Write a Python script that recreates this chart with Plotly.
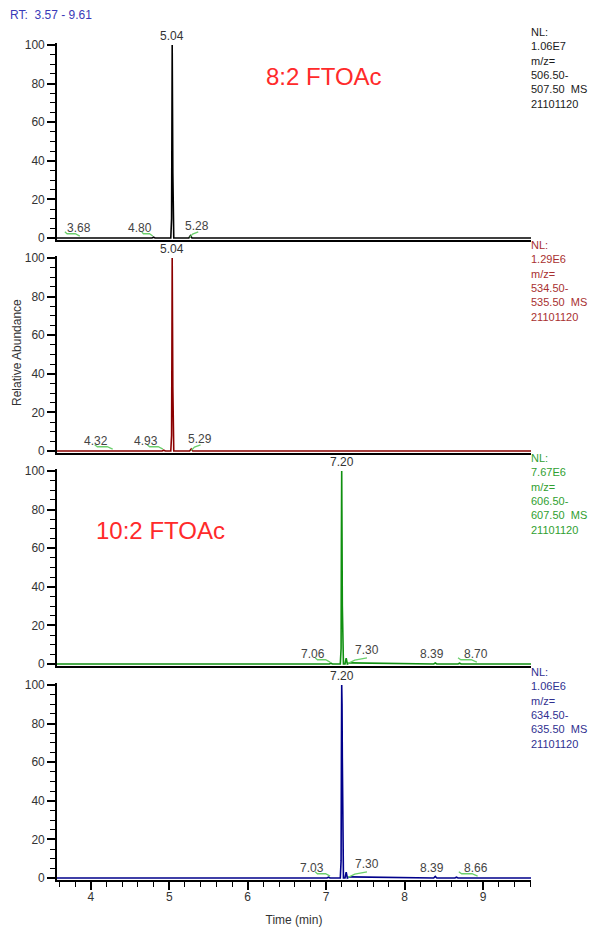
import plotly.graph_objects as go

# ---------------- data ----------------
rt_range = [3.57, 9.61]

p1_time = [3.57, 3.66, 3.68, 3.70, 4.78, 4.80, 4.82, 5.020, 5.026, 5.030, 5.034, 5.038, 5.042, 5.046, 5.050, 5.054, 5.058, 5.25, 5.27, 5.29, 9.61]
p1_int = [0, 0, 0.3, 0, 0, 0.4, 0, 0, 10, 10, 54, 100, 67, 34, 10, 10, 0, 0, 1.2, 0, 0]

p2_time = [3.57, 4.30, 4.32, 4.34, 4.91, 4.93, 4.95, 5.020, 5.026, 5.030, 5.034, 5.038, 5.042, 5.046, 5.050, 5.054, 5.058, 5.26, 5.28, 5.30, 9.61]
p2_int = [0, 0, 0.3, 0, 0, 0.4, 0, 0, 8, 8, 50, 100, 66, 33, 8, 8, 0, 0, 1.0, 0, 0]

p3_time = [3.57, 7.04, 7.06, 7.08, 7.180, 7.186, 7.190, 7.194, 7.198, 7.202, 7.206, 7.210, 7.220, 7.240, 7.255, 7.270, 7.30, 8.37, 8.39, 8.41, 8.68, 8.70, 8.72, 9.61]
p3_int = [0, 0, 0.4, 0, 0, 8, 8, 65, 100, 65, 30, 5, 0, 0, 3, 0, 0.6, 0, 0.5, 0, 0, 0.4, 0, 0]

p4_time = [3.57, 7.01, 7.03, 7.05, 7.180, 7.186, 7.190, 7.194, 7.198, 7.202, 7.206, 7.210, 7.220, 7.240, 7.255, 7.270, 7.30, 8.37, 8.39, 8.41, 8.64, 8.66, 8.68, 9.61]
p4_int = [0, 0, 0.4, 0, 0, 9, 9, 62, 100, 90, 62, 8, 0, 0, 3, 0, 0.6, 0, 0.8, 0, 0, 0.4, 0, 0]

# labelled peaks
p1_peaks = [3.68, 4.80, 5.28]
p2_peaks = [4.32, 4.93, 5.29]
p3_peaks = [7.06, 7.30, 8.39, 8.70]
p4_peaks = [7.03, 7.30, 8.39, 8.66]
base_peaks = [5.04, 5.04, 7.20, 7.20]

# highlighted (detected) peak segments, minutes
p1_hl = [[3.67, 3.86], [4.65, 4.79], [5.26, 5.37]]
p2_hl = [[4.05, 4.28], [4.72, 4.92], [5.28, 5.40]]
p3_hl = [[6.86, 7.05], [7.28, 7.52], [8.68, 8.92]]
p4_hl = [[6.86, 7.05], [7.28, 7.52], [8.69, 8.93]]

nl_values = ["1.06E7", "1.29E6", "7.67E6", "1.06E6"]
mz_ranges = [["506.50-", "507.50"], ["534.50-", "535.50"], ["606.50-", "607.50"], ["634.50-", "635.50"]]
scan_id = "21101120"
compound_labels = ["8:2 FTOAc", "10:2 FTOAc"]

x_ticks = [4, 5, 6, 7, 8, 9]
y_ticks = [0, 20, 40, 60, 80, 100]

# ---------------- style ----------------
OFF = 8                      # page body margin
W, H = 599 - OFF, 927 - OFF
L, R = 57 - OFF, 68
T, B = 32, 45
line_colors = ["#000000", "#8b0000", "#109010", "#00008b"]
text_colors = ["#1a1a1a", "#a83030", "#30a030", "#303090"]
hl_color = "#6ccf6c"
zero_px = [238 - OFF, 451 - OFF, 664 - OFF, 878 - OFF]
px_per_unit = 1.93
ymin, ymax = -1.2, 101
p_off = [[0.17, -0.17, 0.07], [-0.25, -0.23, 0.10], [-0.23, 0.22, -0.04, 0.21], [-0.21, 0.22, -0.04, 0.25]]
p_rise = [[False, False, True], [False, False, True], [False, True, False], [False, True, False]]
p_lab_y = [[5.2, 5.2, 6.2], [5.2, 5.2, 6.2], [5.2, 7.2, 5.2, 5.2], [5.2, 7.2, 5.2, 5.2]]

font_family = "Liberation Sans, Arial, sans-serif"

times = [p1_time, p2_time, p3_time, p4_time]
ints = [p1_int, p2_int, p3_int, p4_int]
peaks = [p1_peaks, p2_peaks, p3_peaks, p4_peaks]
hls = [p1_hl, p2_hl, p3_hl, p4_hl]

fig = go.Figure()
plot_h = H - T - B
layout = dict(
    width=W, height=H,
    margin=dict(l=L, r=R, t=T, b=B, autoexpand=False),
    paper_bgcolor="white", plot_bgcolor="white",
    showlegend=False,
    font=dict(family=font_family, size=12, color="#333333"),
)
annotations = []


def paper_y(fig_px):
    return (H - B - fig_px) / plot_h


for i in range(4):
    n = "" if i == 0 else str(i + 1)
    xa, ya = "x" + n, "y" + n
    top_px = zero_px[i] - ymax * px_per_unit
    bot_px = zero_px[i] - ymin * px_per_unit
    layout["xaxis" + n] = dict(
        range=rt_range, anchor=ya, domain=[0, 1],
        showgrid=False, zeroline=False,
        showline=True, linecolor="#000000", linewidth=1.6,
        showticklabels=(i == 3),
        ticks="outside" if i == 3 else "",
        tickvals=x_ticks if i == 3 else [],
        ticklen=8, tickcolor="#000000", tickwidth=1.5,
        minor=dict(dtick=0.2, tick0=0, ticks="outside" if i == 3 else "", ticklen=5, tickcolor="#000000", tickwidth=1.2),
        tickfont=dict(size=12, color="#333333"),
        ticklabelstandoff=-4,
    )
    if i > 0:
        layout["xaxis" + n]["matches"] = "x"
    if i == 3:
        layout["xaxis" + n]["title"] = dict(text="Time (min)", font=dict(size=12, color="#333333"), standoff=18)
    layout["yaxis" + n] = dict(
        range=[ymin, ymax], anchor=xa, domain=[paper_y(bot_px), paper_y(top_px)],
        showgrid=False, zeroline=False,
        showline=True, linecolor="#000000", linewidth=1.6,
        tickvals=y_ticks, ticks="outside", ticklen=8, tickcolor="#000000", tickwidth=1.5,
        minor=dict(dtick=5, tick0=0, ticks="outside", ticklen=5, tickcolor="#000000", tickwidth=1.2),
        tickfont=dict(size=12, color="#333333"),
    )
    fig.add_trace(go.Scatter(x=times[i], y=ints[i], mode="lines",
                             line=dict(color=line_colors[i], width=1.6),
                             xaxis=xa, yaxis=ya, hoverinfo="skip"))
    for k, seg in enumerate(hls[i]):
        if p_rise[i][k]:
            yy = [0.3, 2.0, 3.2]
            xx = [seg[0], seg[0] + 0.35 * (seg[1] - seg[0]), seg[1]]
        else:
            yy = [3.2, 2.2, 2.2, 1.0]
            xx = [seg[0], seg[0] + 0.15 * (seg[1] - seg[0]), seg[0] + 0.7 * (seg[1] - seg[0]), seg[1]]
        fig.add_trace(go.Scatter(x=xx, y=yy, mode="lines",
                                 line=dict(color=hl_color, width=1.3),
                                 xaxis=xa, yaxis=ya, hoverinfo="skip"))
    for k, pk in enumerate(peaks[i]):
        annotations.append(dict(x=pk + p_off[i][k], y=p_lab_y[i][k], xref=xa, yref=ya,
                                text=f"{pk:.2f}", showarrow=False, yanchor="middle",
                                font=dict(size=12, color="#444444")))
    annotations.append(dict(x=base_peaks[i], y=100, xref=xa, yref=ya,
                            text=f"{base_peaks[i]:.2f}", showarrow=False, yanchor="bottom",
                            font=dict(size=12, color="#333333")))
    nl_text = "<br>".join(["NL:", nl_values[i], "m/z=", mz_ranges[i][0], mz_ranges[i][1] + "  MS", scan_id])
    annotations.append(dict(x=1, y=100, xref="paper", yref=ya, xanchor="left", yanchor="top",
                            yshift=21, xshift=-2, text=nl_text, showarrow=False, align="left",
                            font=dict(size=11, color=text_colors[i])))

annotations.append(dict(x=0, y=paper_y(15 - OFF), xref="paper", yref="paper", xanchor="left", yanchor="middle",
                        xshift=-L, text="RT:  3.57 - 9.61", showarrow=False,
                        font=dict(size=12, color="#3a3ab8")))
annotations.append(dict(x=6.97, y=83.5, xref="x", yref="y", text=compound_labels[0], showarrow=False,
                        font=dict(size=24, color="#ff2a2a")))
annotations.append(dict(x=4.89, y=69, xref="x3", yref="y3", text=compound_labels[1], showarrow=False,
                        font=dict(size=24, color="#ff2a2a")))
annotations.append(dict(x=0, y=paper_y(353 - OFF), xref="paper", yref="paper", xanchor="left", yanchor="middle",
                        xshift=-L, text="Relative Abundance",
                        textangle=-90, showarrow=False, font=dict(size=12, color="#333333")))

layout["annotations"] = annotations
fig.update_layout(**layout)
fig.write_html("out.html")
